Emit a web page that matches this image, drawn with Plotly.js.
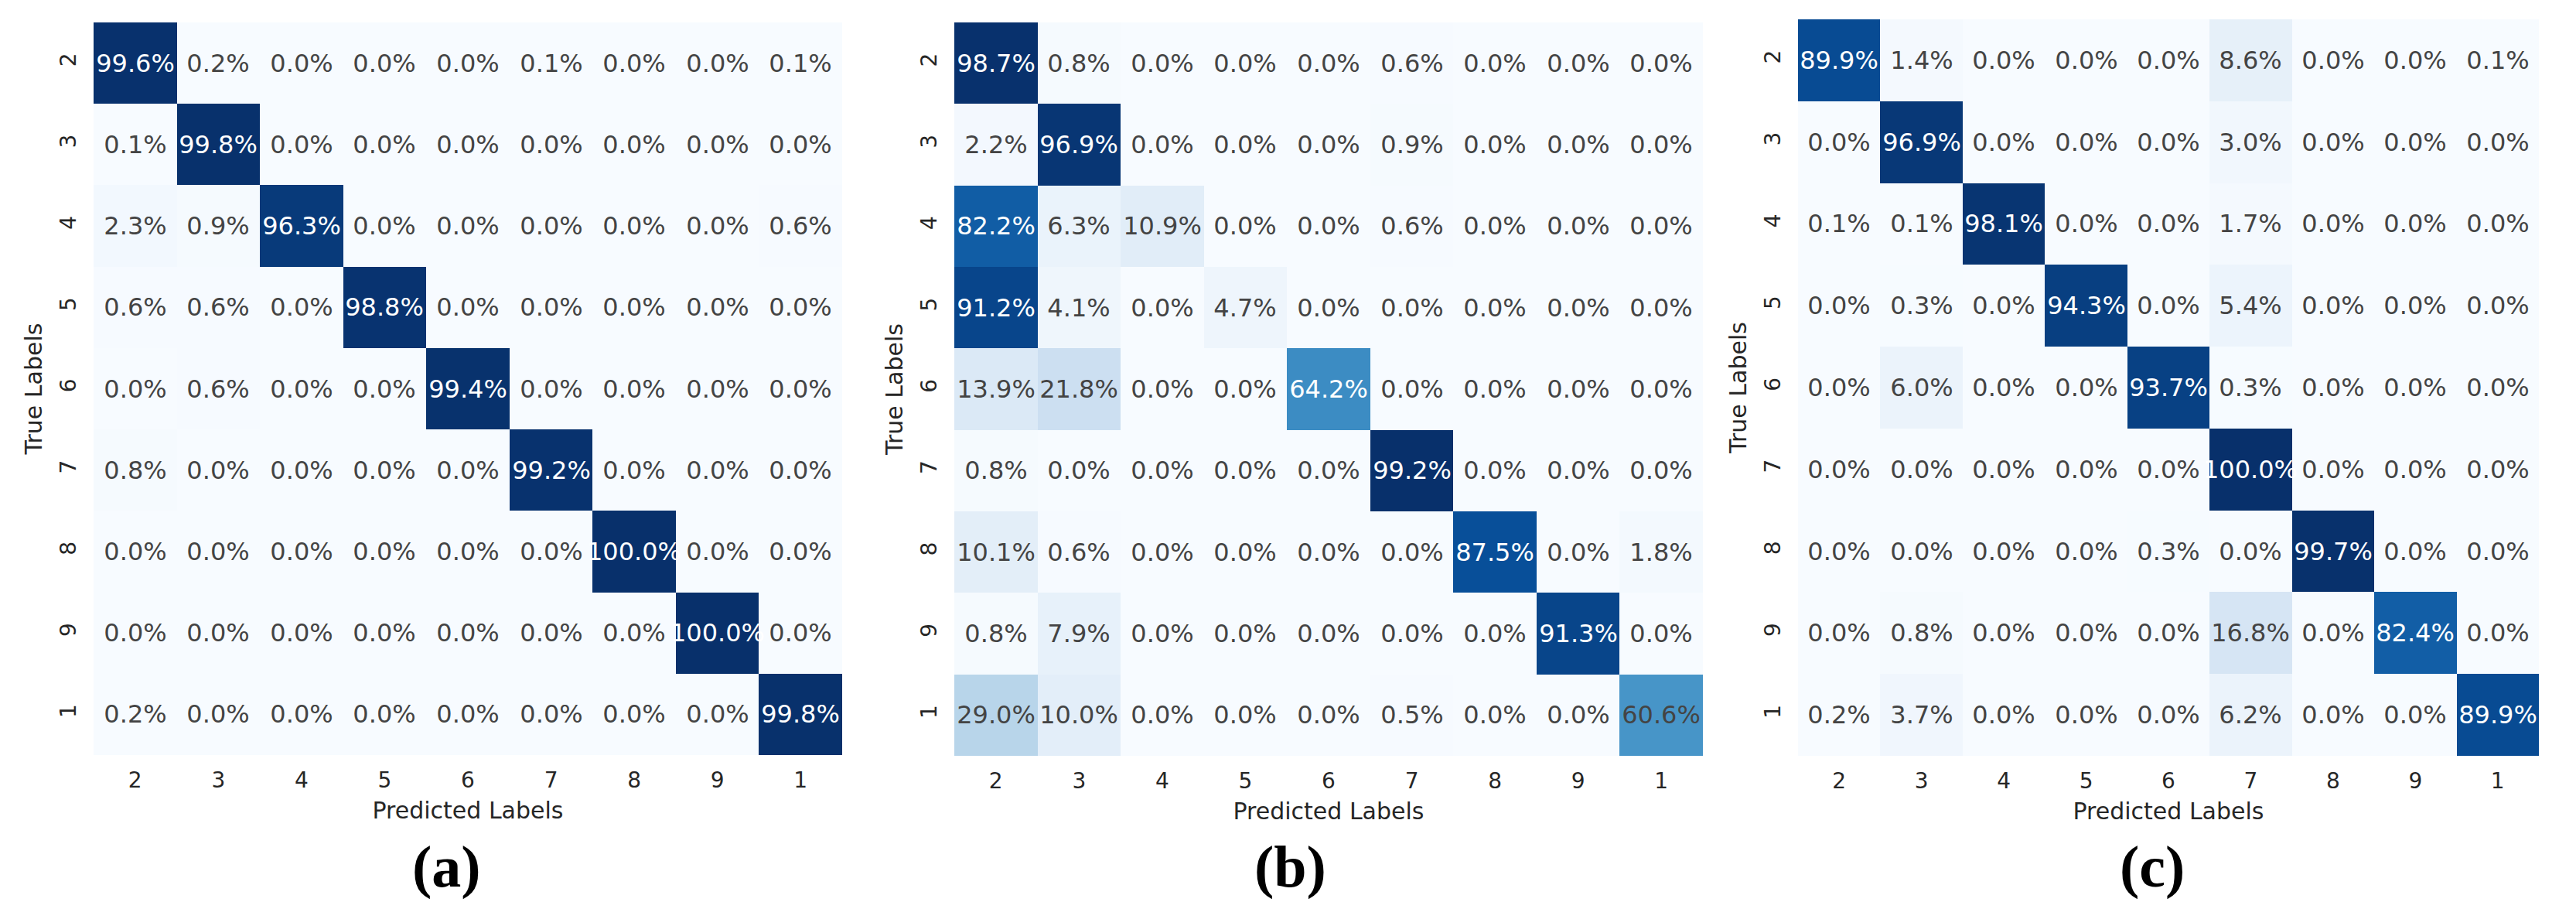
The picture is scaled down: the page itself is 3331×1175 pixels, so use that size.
<!DOCTYPE html>
<html>
<head>
<meta charset="utf-8">
<script src="https://cdn.plot.ly/plotly-3.0.1.min.js"></script>
<style>html,body{margin:0;padding:0;background:#fff;}#chart{width:3331px;height:1175px;}</style>
</head>
<body>
<div id="chart"></div>
<script>
// Class labels (tick labels), same order on both axes
const labels = ["2", "3", "4", "5", "6", "7", "8", "9", "1"];

// Panel (a) – percentages per true-label row
const matrixA = [
  [99.6, 0.2, 0.0, 0.0, 0.0, 0.1, 0.0, 0.0, 0.1],
  [0.1, 99.8, 0.0, 0.0, 0.0, 0.0, 0.0, 0.0, 0.0],
  [2.3, 0.9, 96.3, 0.0, 0.0, 0.0, 0.0, 0.0, 0.6],
  [0.6, 0.6, 0.0, 98.8, 0.0, 0.0, 0.0, 0.0, 0.0],
  [0.0, 0.6, 0.0, 0.0, 99.4, 0.0, 0.0, 0.0, 0.0],
  [0.8, 0.0, 0.0, 0.0, 0.0, 99.2, 0.0, 0.0, 0.0],
  [0.0, 0.0, 0.0, 0.0, 0.0, 0.0, 100.0, 0.0, 0.0],
  [0.0, 0.0, 0.0, 0.0, 0.0, 0.0, 0.0, 100.0, 0.0],
  [0.2, 0.0, 0.0, 0.0, 0.0, 0.0, 0.0, 0.0, 99.8]
];

// Panel (b)
const matrixB = [
  [98.7, 0.8, 0.0, 0.0, 0.0, 0.6, 0.0, 0.0, 0.0],
  [2.2, 96.9, 0.0, 0.0, 0.0, 0.9, 0.0, 0.0, 0.0],
  [82.2, 6.3, 10.9, 0.0, 0.0, 0.6, 0.0, 0.0, 0.0],
  [91.2, 4.1, 0.0, 4.7, 0.0, 0.0, 0.0, 0.0, 0.0],
  [13.9, 21.8, 0.0, 0.0, 64.2, 0.0, 0.0, 0.0, 0.0],
  [0.8, 0.0, 0.0, 0.0, 0.0, 99.2, 0.0, 0.0, 0.0],
  [10.1, 0.6, 0.0, 0.0, 0.0, 0.0, 87.5, 0.0, 1.8],
  [0.8, 7.9, 0.0, 0.0, 0.0, 0.0, 0.0, 91.3, 0.0],
  [29.0, 10.0, 0.0, 0.0, 0.0, 0.5, 0.0, 0.0, 60.6]
];

// Panel (c)
const matrixC = [
  [89.9, 1.4, 0.0, 0.0, 0.0, 8.6, 0.0, 0.0, 0.1],
  [0.0, 96.9, 0.0, 0.0, 0.0, 3.0, 0.0, 0.0, 0.0],
  [0.1, 0.1, 98.1, 0.0, 0.0, 1.7, 0.0, 0.0, 0.0],
  [0.0, 0.3, 0.0, 94.3, 0.0, 5.4, 0.0, 0.0, 0.0],
  [0.0, 6.0, 0.0, 0.0, 93.7, 0.3, 0.0, 0.0, 0.0],
  [0.0, 0.0, 0.0, 0.0, 0.0, 100.0, 0.0, 0.0, 0.0],
  [0.0, 0.0, 0.0, 0.0, 0.3, 0.0, 99.7, 0.0, 0.0],
  [0.0, 0.8, 0.0, 0.0, 0.0, 16.8, 0.0, 82.4, 0.0],
  [0.2, 3.7, 0.0, 0.0, 0.0, 6.2, 0.0, 0.0, 89.9]
];

const panelNames = ["(a)", "(b)", "(c)"];
const xTitle = "Predicted Labels";
const yTitle = "True Labels";

// matplotlib "Blues"
const blues = [
  [0.0, "#f7fbff"], [0.125, "#deebf7"], [0.25, "#c6dbef"], [0.375, "#9ecae1"],
  [0.5, "#6baed6"], [0.625, "#4292c6"], [0.75, "#2171b5"], [0.875, "#08519c"], [1.0, "#08306b"]
];

const matrices = [matrixA, matrixB, matrixC];
const xDomains = [[121/3331, 1089/3331], [1234/3331, 2202/3331], [2325/3331, 3283/3331]];
const yDomains = [[1-976/1175, 1-29/1175], [1-977/1175, 1-29/1175], [1-977/1175, 1-25/1175]];
const letterX = [577, 1668, 2783];

const font = "DejaVu Sans, sans-serif";
const traces = [];
const layout = {
  width: 3331, height: 1175,
  margin: {l: 0, r: 0, t: 0, b: 0},
  paper_bgcolor: "#ffffff", plot_bgcolor: "#ffffff",
  showlegend: false,
  font: {family: font, color: "#262626"},
  annotations: []
};

matrices.forEach((m, i) => {
  const sfx = i === 0 ? "" : String(i + 1);
  const zmax = Math.max(...m.map(r => Math.max(...r)));
  const zmin = Math.min(...m.map(r => Math.min(...r)));
  traces.push({
    type: "heatmap",
    x: labels, y: labels, z: m,
    xaxis: "x" + sfx, yaxis: "y" + sfx,
    colorscale: blues, zmin: zmin, zmax: zmax,
    showscale: false,
    xgap: 0, ygap: 0,
    texttemplate: "%{z:.1f}%",
    textfont: {family: font, size: 32},
    hoverinfo: "skip"
  });
  layout["xaxis" + sfx] = {
    domain: xDomains[i], anchor: "y" + sfx, type: "category",
    showgrid: false, zeroline: false, showline: false, ticks: "",
    ticklabelstandoff: 13,
    tickfont: {family: font, size: 28, color: "#262626"},
    title: {text: xTitle, font: {family: font, size: 30, color: "#262626"}, standoff: 12},
    fixedrange: true
  };
  layout["yaxis" + sfx] = {
    domain: yDomains[i], anchor: "x" + sfx, type: "category", autorange: "reversed",
    showgrid: false, zeroline: false, showline: false, ticks: "",
    tickangle: -90,
    ticklabelstandoff: 16,
    tickfont: {family: font, size: 28, color: "#262626"},
    title: {text: yTitle, font: {family: font, size: 30, color: "#262626"}, standoff: 8},
    fixedrange: true
  };
  layout.annotations.push({
    xref: "paper", yref: "paper",
    x: letterX[i] / 3331, y: 1 - 1120 / 1175,
    xanchor: "center", yanchor: "middle",
    text: "<b>" + panelNames[i] + "</b>", showarrow: false,
    font: {family: "Liberation Serif, Times New Roman, serif", size: 76, color: "#000000"}
  });
});

Plotly.newPlot("chart", traces, layout, {staticPlot: true, displayModeBar: false});
</script>
</body>
</html>
